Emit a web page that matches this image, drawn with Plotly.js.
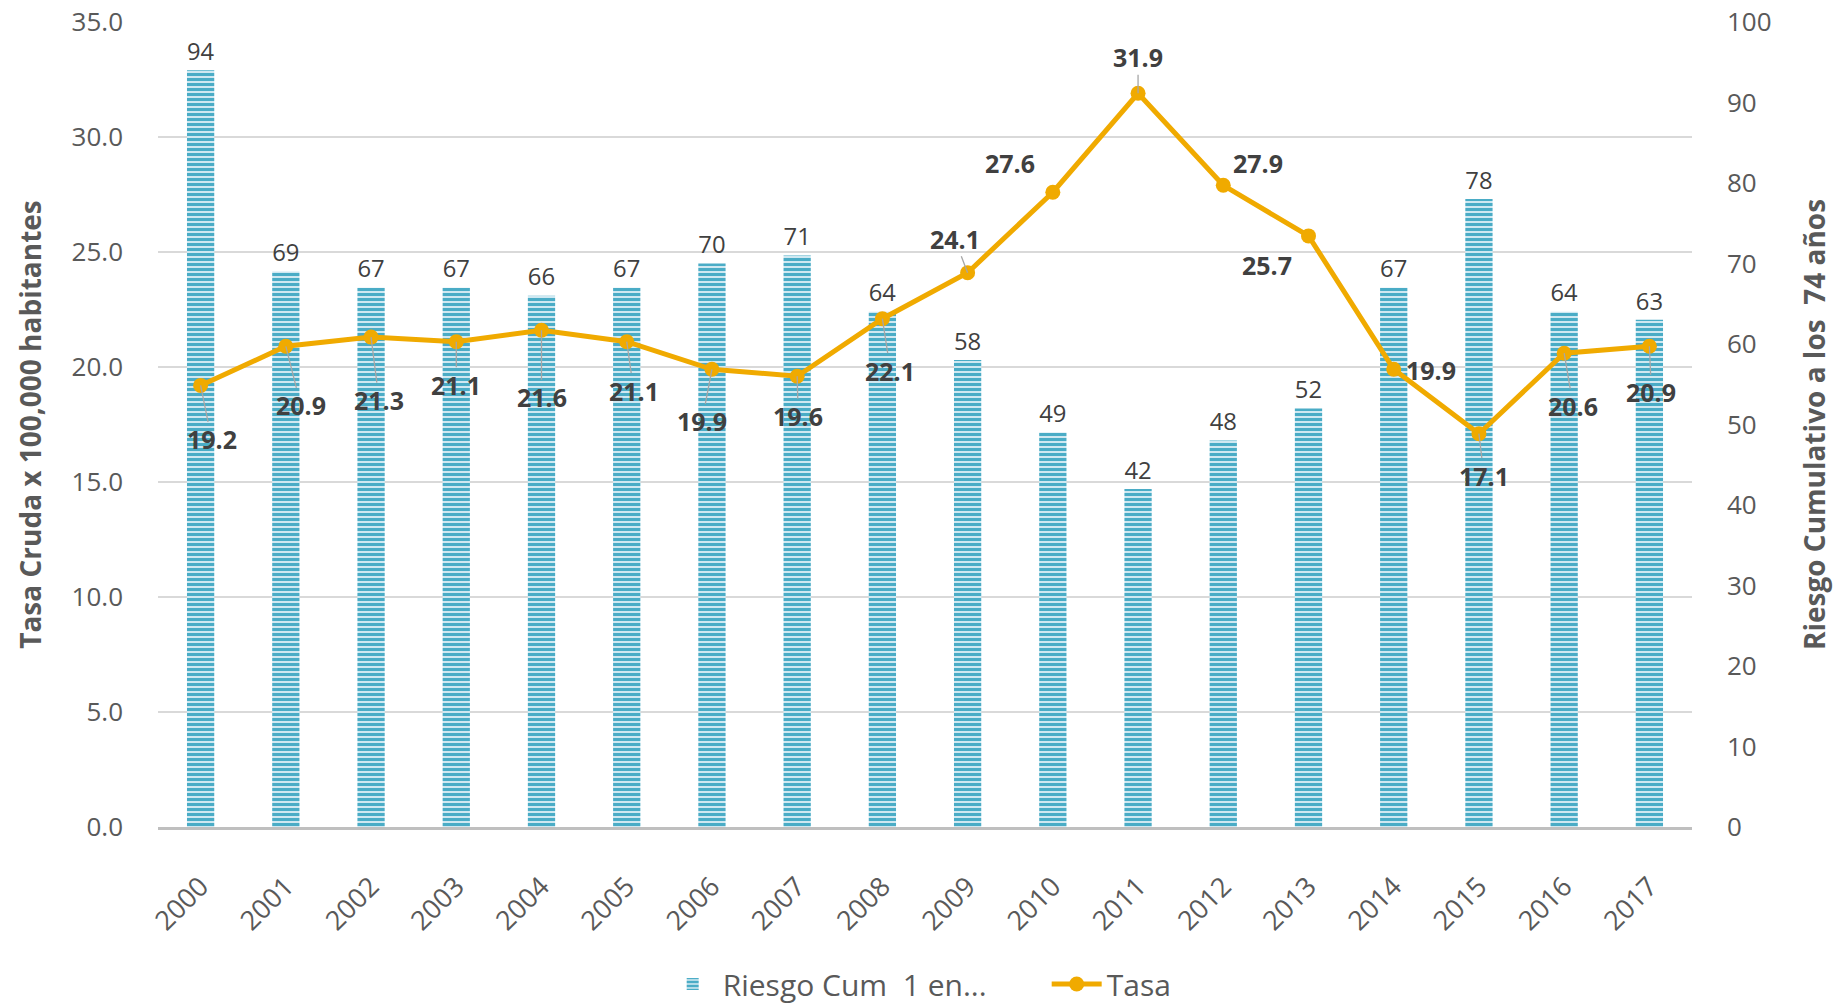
<!DOCTYPE html>
<html>
<head>
<meta charset="utf-8">
<script src="https://cdn.plot.ly/plotly-3.0.1.min.js"></script>
<style>html,body{margin:0;padding:0;background:#fff;}#chart{width:1837px;height:1004px;}</style>
</head>
<body>
<div id="chart"></div>
<script>
// ---- data ----
const years = [2000, 2001, 2002, 2003, 2004, 2005, 2006, 2007, 2008, 2009, 2010, 2011, 2012, 2013, 2014, 2015, 2016, 2017];
const riesgoCum = [94, 69, 67, 67, 66, 67, 70, 71, 64, 58, 49, 42, 48, 52, 67, 78, 64, 63];
const tasa = [19.2, 20.9, 21.3, 21.1, 21.6, 21.1, 19.9, 19.6, 22.1, 24.1, 27.6, 31.9, 27.9, 25.7, 19.9, 17.1, 20.6, 20.9];
const leftTicks = [0, 5, 10, 15, 20, 25, 30, 35];
const rightTicks = [0, 10, 20, 30, 40, 50, 60, 70, 80, 90, 100];

// ---- label placement (pixels, relative to each point) ----
const labelDx = [11, 15, 8, 0, 0, 7, -10, 1, 8, -13, -43, 0, 35, -42, 37, 5, 9, 2];
const labelDy = [54, 59, 63, 43, 67, 49, 52, 40, 52, -34, -29, -36, -22, 29, 1, 42, 53, 46];
const leader  = [1, 1, 1, 1, 1, 1, 1, 1, 1, 1, 0, 1, 0, 0, 0, 1, 1, 1];

const FONT = 'Open Sans, Lato, sans-serif';
const GREY = '#595959';

const barTrace = {
  type: 'bar',
  x: years,
  y: riesgoCum,
  name: 'Riesgo Cum  1 en...',
  yaxis: 'y',
  width: 0.32,
  text: riesgoCum.map(String),
  textposition: 'outside',
  cliponaxis: false,
  textfont: {family: FONT, size: 26, color: '#404040'},
  marker: {
    color: '#cfe7f0',
    line: {width: 0},
    pattern: {shape: '-', fgcolor: '#4aacc6', bgcolor: '#cfe8f1', size: 5, solidity: 0.6}
  }
};

const lineTrace = {
  type: 'scatter',
  mode: 'lines+markers',
  x: years,
  y: tasa,
  name: 'Tasa',
  yaxis: 'y2',
  line: {color: '#f0aa00', width: 5},
  marker: {color: '#f0aa00', size: 15},
  cliponaxis: false
};

const annotations = tasa.map((v, i) => {
  const base = {
    x: years[i], y: v, xref: 'x', yref: 'y2',
    text: '<b>' + v.toFixed(1) + '</b>',
    font: {family: FONT, size: 25, color: '#404040'}
  };
  if (leader[i]) {
    return Object.assign(base, {
      showarrow: true, arrowhead: 0, arrowwidth: 1.3, arrowcolor: '#a6a6a6',
      ax: labelDx[i], ay: labelDy[i], standoff: 0, borderpad: 0
    });
  }
  return Object.assign(base, {showarrow: false, xshift: labelDx[i], yshift: -labelDy[i]});
});

const layout = {
  width: 1837, height: 1004,
  paper_bgcolor: '#ffffff', plot_bgcolor: '#ffffff',
  margin: {l: 158, r: 145, t: 22, b: 177, autoexpand: false},
  font: {family: FONT, color: GREY},
  showlegend: true,
  legend: {
    orientation: 'h', x: 0.329, xanchor: 'left', y: -0.195, yanchor: 'middle',
    font: {family: FONT, size: 30, color: GREY}, itemwidth: 50, traceorder: 'normal',
    entrywidth: 319
  },
  xaxis: {
    type: 'linear',
    automargin: false,
    range: [years[0] - 0.5, years[years.length - 1] + 0.5],
    tickvals: years,
    ticktext: years.map(String),
    tickangle: -45,
    tickfont: {family: FONT, size: 27, color: GREY},
    showline: true, linecolor: '#bfbfbf', linewidth: 3,
    ticks: '', showgrid: false, zeroline: false, ticklabelstandoff: 30
  },
  yaxis: {
    side: 'right',
    automargin: false,
    range: [0, 100],
    tickvals: rightTicks,
    ticktext: rightTicks.map(String),
    showgrid: false, zeroline: false, showline: false, ticks: '',
    tickfont: {family: FONT, size: 26, color: GREY},
    ticklabelstandoff: 34,
    title: {text: 'Riesgo Cumulativo a los  74 años', font: {family: FONT, size: 28, color: GREY, weight: 'bold'}, standoff: 34}
  },
  yaxis2: {
    side: 'left',
    overlaying: 'y',
    automargin: false,
    range: [0, 35],
    tickvals: leftTicks,
    ticktext: leftTicks.map(t => t.toFixed(1)),
    showgrid: true, gridcolor: '#d9d9d9', gridwidth: 1.5,
    zeroline: false, showline: false, ticks: '',
    tickfont: {family: FONT, size: 26, color: GREY},
    ticklabelstandoff: 34,
    title: {text: 'Tasa Cruda x 100,000 habitantes', font: {family: FONT, size: 28, color: GREY, weight: 'bold'}, standoff: 21}
  },
  annotations: annotations
};

Plotly.newPlot('chart', [barTrace, lineTrace], layout, {displayModeBar: false, staticPlot: true});
</script>
</body>
</html>
